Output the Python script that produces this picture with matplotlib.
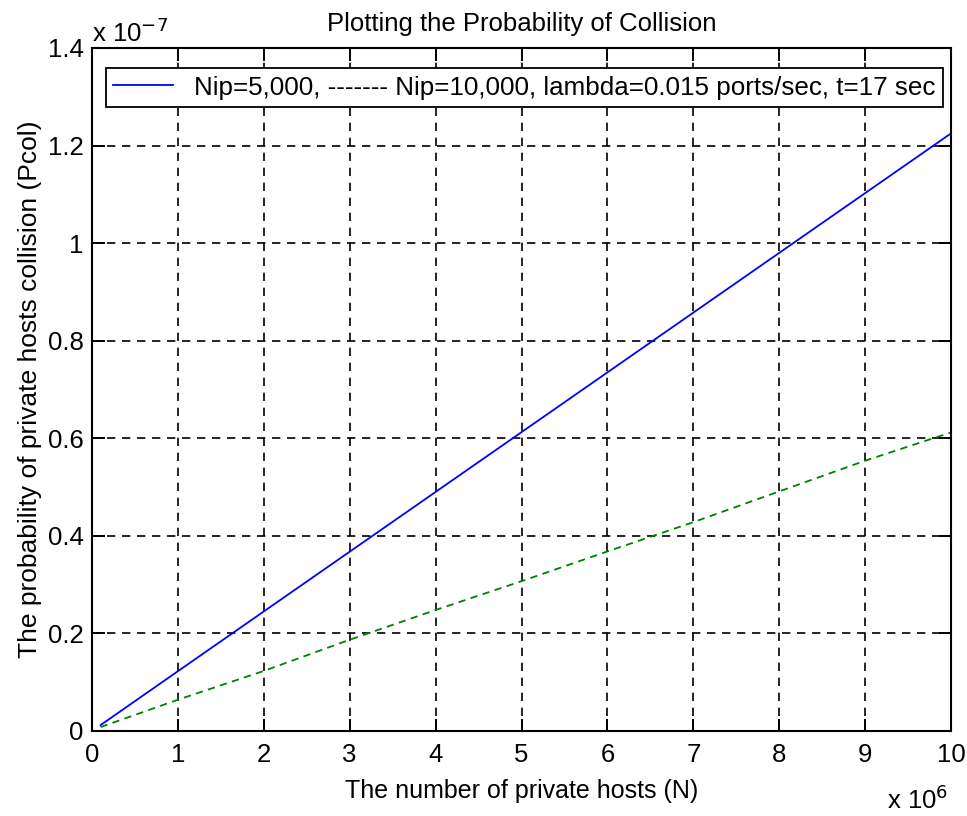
import matplotlib.pyplot as plt
from matplotlib.ticker import FuncFormatter, MultipleLocator

# values (N in millions, Pcol in 1e-7)
hosts_millions = [0.1, 1, 2, 3, 4, 5, 6, 7, 8, 9, 10]
pcol_nip5000 = [0.012, 0.1225, 0.245, 0.3675, 0.49, 0.6125, 0.735, 0.8575, 0.98, 1.1025, 1.225]
pcol_nip10000 = [0.008, 0.064, 0.123, 0.187, 0.248, 0.307, 0.368, 0.428, 0.491, 0.554, 0.612]

x_scale = 1e6
y_scale = 1e-7

plt.rcParams['font.family'] = ['Liberation Sans', 'DejaVu Sans']

if __name__ == '__main__':
    fig = plt.figure(figsize=(9.67, 8.16), dpi=100)
    ax = fig.add_axes([0.0951, 0.1042, 0.8884, 0.837])

    N = [h * x_scale for h in hosts_millions]
    p1 = [v * y_scale for v in pcol_nip5000]
    p2 = [v * y_scale for v in pcol_nip10000]

    ax.plot(N, p1, color='#0000ff', lw=1.3,
            label='Nip=5,000, ------- Nip=10,000, lambda=0.015 ports/sec, t=17 sec')
    ax.plot(N, p2, color='#008000', lw=1.3, dashes=(4, 3))

    ax.set_xlim(0, 10 * x_scale)
    ax.set_ylim(0, 1.4 * y_scale)
    ax.xaxis.set_major_locator(MultipleLocator(1 * x_scale))
    ax.yaxis.set_major_locator(MultipleLocator(0.2 * y_scale))
    ax.xaxis.set_major_formatter(FuncFormatter(lambda v, p: '%g' % round(v / x_scale, 6)))
    ax.yaxis.set_major_formatter(FuncFormatter(lambda v, p: '%g' % round(v / y_scale, 6)))

    ax.grid(True, color='black', linestyle=(0, (5, 4)), lw=1.2)
    ax.set_axisbelow(True)
    ax.tick_params(direction='in', length=9, width=1.4, top=True, right=True,
                   labelsize=18.5, colors='black')
    ax.tick_params(axis='x', pad=9)
    ax.tick_params(axis='y', pad=6)
    for s in ax.spines.values():
        s.set_linewidth(1.5)

    ax.set_title('Plotting the Probability of Collision', fontsize=18.5, pad=12)
    ax.set_xlabel('The number of private hosts (N)', fontsize=18, labelpad=8)
    ax.set_ylabel('The probability of private hosts collision (Pcol)', fontsize=19, labelpad=4)

    # MATLAB style exponent labels
    ax.text(0.0, 1.0088, r'x 10$^{-7}$', transform=ax.transAxes, fontsize=18.5,
            ha='left', va='baseline')
    ax.text(0.9965, -0.114, r'x 10$^{6}$', transform=ax.transAxes, fontsize=18.5,
            ha='right', va='baseline')

    leg = ax.legend(loc='upper right', bbox_to_anchor=(0.9907, 0.971), fontsize=18.7,
                    fancybox=False, edgecolor='black', framealpha=1, borderaxespad=0,
                    handlelength=2.3, handletextpad=0.8, borderpad=0.3)
    leg.get_frame().set_linewidth(1.3)

    plt.savefig('out.png', dpi=100)
